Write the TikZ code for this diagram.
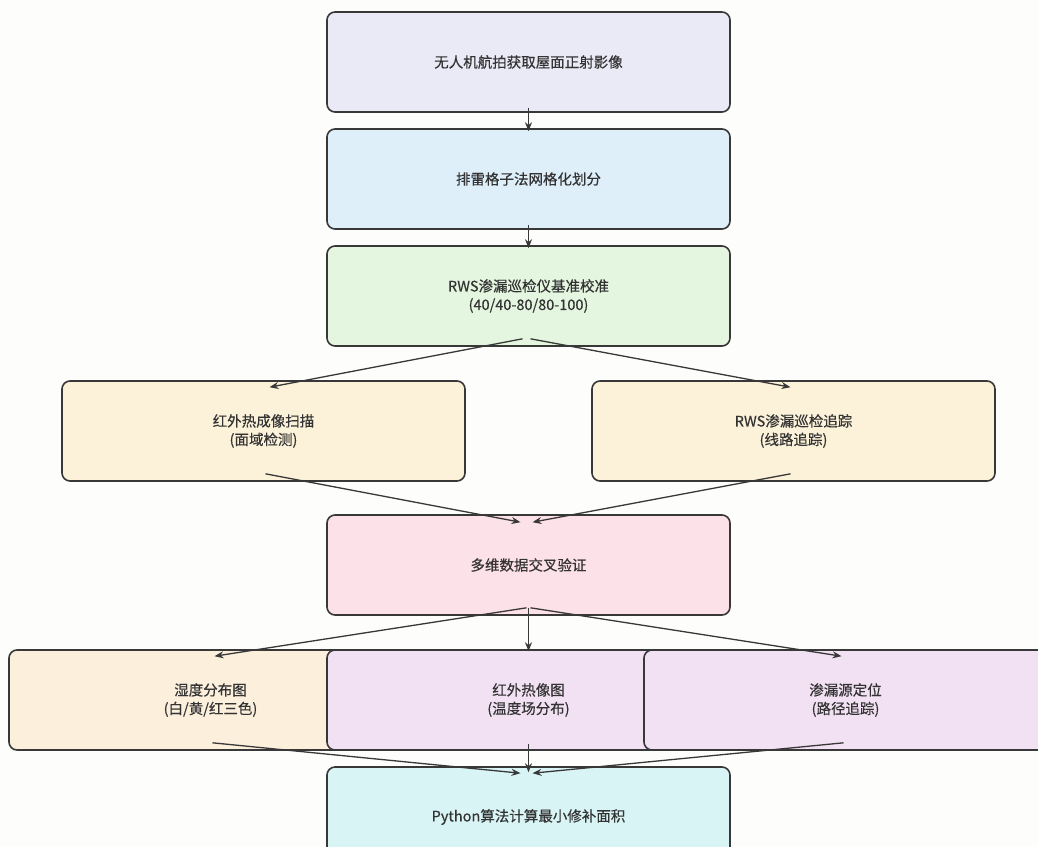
\documentclass[tikz,border=0pt]{standalone}
\usepackage{fontspec}
\setmainfont{Noto Sans CJK SC}
\newfontfamily\boxfont{Noto Sans CJK SC}[FakeBold=0.35]
\usetikzlibrary{arrows.meta,calc}
\definecolor{edgec}{HTML}{383838}
\definecolor{txtc}{HTML}{333333}
\definecolor{bgc}{HTML}{FDFDFB}
\definecolor{cA}{HTML}{EAE9F6}
\definecolor{cB}{HTML}{DFEFF9}
\definecolor{cC}{HTML}{E4F5E0}
\definecolor{cD}{HTML}{FCF2DA}
\definecolor{cE}{HTML}{FDE1E8}
\definecolor{cF}{HTML}{FCF0DD}
\definecolor{cG}{HTML}{F2E1F3}
\definecolor{cH}{HTML}{D9F4F5}
\begin{document}
\begin{tikzpicture}[x=1pt,y=-1pt,
  box/.style={draw=edgec, line width=1.6pt, rounded corners=8pt,
    minimum width=403pt, minimum height=100pt, inner sep=0pt,
    align=center, text=txtc, font=\boxfont\fontsize{14.5}{18.5}\selectfont},
  arr/.style={draw=edgec, line width=1.3pt, -{Stealth[length=9pt,width=7pt]}}]
\useasboundingbox (0,0) rectangle (1038,846);
\clip (0,0) rectangle (1038,846);
\fill[bgc] (0,0) rectangle (1038,846);
\node[box, fill=cA] (b1) at (528.5,62) {无人机航拍获取屋面正射影像};
\node[box, fill=cB] (b2) at (528.5,179) {排雷格子法网格化划分};
\node[box, fill=cC] (b3) at (528.5,296) {RWS渗漏巡检仪基准校准\\(40/40-80/80-100)};
\node[box, fill=cD] (b4) at (263.5,431) {红外热成像扫描\\(面域检测)};
\node[box, fill=cD] (b5) at (793.5,431) {RWS渗漏巡检追踪\\(线路追踪)};
\node[box, fill=cE] (b6) at (528.5,565) {多维数据交叉验证};
\node[box, fill=cF] (b7) at (210.5,700) {湿度分布图\\(白/黄/红三色)};
\node[box, fill=cG] (b8) at (528.5,700) {红外热像图\\(温度场分布)};
\node[box, fill=cG] (b9) at (845.5,700) {渗漏源定位\\(路径追踪)};
\node[box, fill=cH] (b10) at (528.5,817) {Python算法计算最小修补面积};
\draw[arr] ([yshift=5pt]b1.south) -- ([yshift=-3pt]b2.north);
\draw[arr] ([yshift=5pt]b2.south) -- ([yshift=-3pt]b3.north);
\draw[arr] ([xshift=-6pt,yshift=8pt]b3.south) -- ([xshift=6pt,yshift=-7pt]b4.north);
\draw[arr] ([xshift=2pt,yshift=8pt]b3.south) -- ([xshift=-3pt,yshift=-7pt]b5.north);
\draw[arr] ([xshift=2pt,yshift=8pt]b4.south) -- ([xshift=-8pt,yshift=-8pt]b6.north);
\draw[arr] ([xshift=-3pt,yshift=8pt]b5.south) -- ([xshift=4pt,yshift=-8pt]b6.north);
\draw[arr] ([xshift=-2pt,yshift=8pt]b6.south) -- ([xshift=4pt,yshift=-7pt]b7.north);
\draw[arr] ([yshift=8pt]b6.south) -- ([yshift=-2pt]b8.north);
\draw[arr] ([xshift=2pt,yshift=8pt]b6.south) -- ([xshift=-4pt,yshift=-7pt]b9.north);
\draw[arr] ([xshift=2pt,yshift=8pt]b7.south) -- ([xshift=-8pt,yshift=-7pt]b10.north);
\draw[arr] ([yshift=7pt]b8.south) -- ([yshift=-6pt]b10.north);
\draw[arr] ([xshift=-2pt,yshift=8pt]b9.south) -- ([xshift=4pt,yshift=-7pt]b10.north);
\end{tikzpicture}
\end{document}
